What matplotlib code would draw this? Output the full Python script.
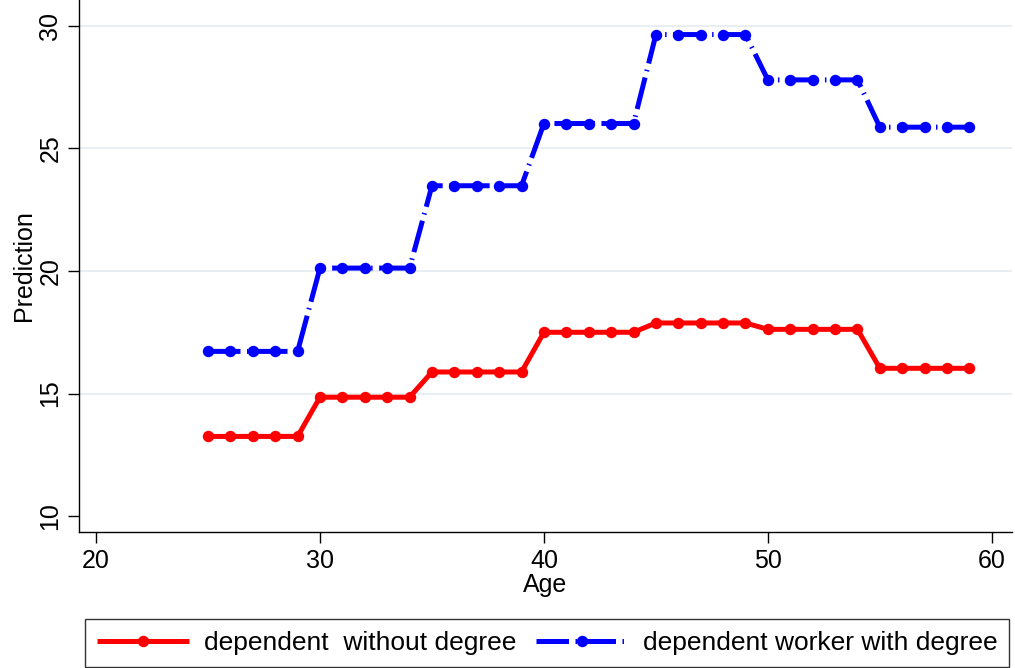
import matplotlib
matplotlib.use("Agg")
import matplotlib.pyplot as plt
import numpy as np

ages = list(range(25, 60))
red_levels = [13.25, 14.85, 15.88, 17.5, 17.88, 17.62, 16.03]
blue_levels = [16.72, 20.12, 23.48, 26.02, 29.65, 27.8, 25.87]
red_vals = [red_levels[(a - 25) // 5] for a in ages]
blue_vals = [blue_levels[(a - 25) // 5] for a in ages]
x_ticks = [20, 30, 40, 50, 60]
y_ticks = [10, 15, 20, 25, 30]
grid_levels = [15, 20, 25, 30]
labels = ["dependent  without degree", "dependent worker with degree"]

plt.rcParams['font.family'] = ['Liberation Sans', 'DejaVu Sans']

fig = plt.figure(figsize=(10.15, 6.68), dpi=100)
ax = fig.add_axes([79/1015, 1-532/668, (1012-79)/1015, 532/668])

for g in grid_levels:
    ax.axhline(g, color='#e6edf0', lw=1.3, zorder=0)

ax.plot(ages, red_vals, color='#ff0000', lw=3.6, marker='o', ms=7.2,
        solid_capstyle='butt', label=labels[0], zorder=3)
ax.plot(ages, blue_vals, color='#0000ff', lw=3.6, marker='o', ms=7.2,
        linestyle=(0, (6.5, 1.3, 0.3, 1.3)), label=labels[1], zorder=3)

ax.set_xlim(19.24, 60.9)
ax.set_ylim(9.35, 31.06)
ax.set_xticks(x_ticks)
ax.set_yticks(y_ticks)
ax.tick_params(axis='both', direction='out', length=8, width=1, labelsize=18,
               color='black', pad=4)
for lab in ax.get_yticklabels():
    lab.set_rotation(90)
    lab.set_va('center')
ax.spines['top'].set_visible(False)
ax.spines['right'].set_visible(False)
ax.spines['left'].set_linewidth(1)
ax.spines['bottom'].set_linewidth(1)

ax.set_xlabel('Age', fontsize=18, labelpad=0)
ax.set_ylabel('Prediction', fontsize=18, labelpad=2)

leg = fig.legend(loc='upper left', bbox_to_anchor=(85/1015, 1-619/668), ncol=2,
                 fontsize=19, frameon=True, fancybox=False, edgecolor='black',
                 handlelength=3.5, columnspacing=0.75, handletextpad=0.55,
                 borderpad=0.45, borderaxespad=0, markerscale=1.0)
leg.get_frame().set_linewidth(1)

fig.savefig('out.png', dpi=100)
